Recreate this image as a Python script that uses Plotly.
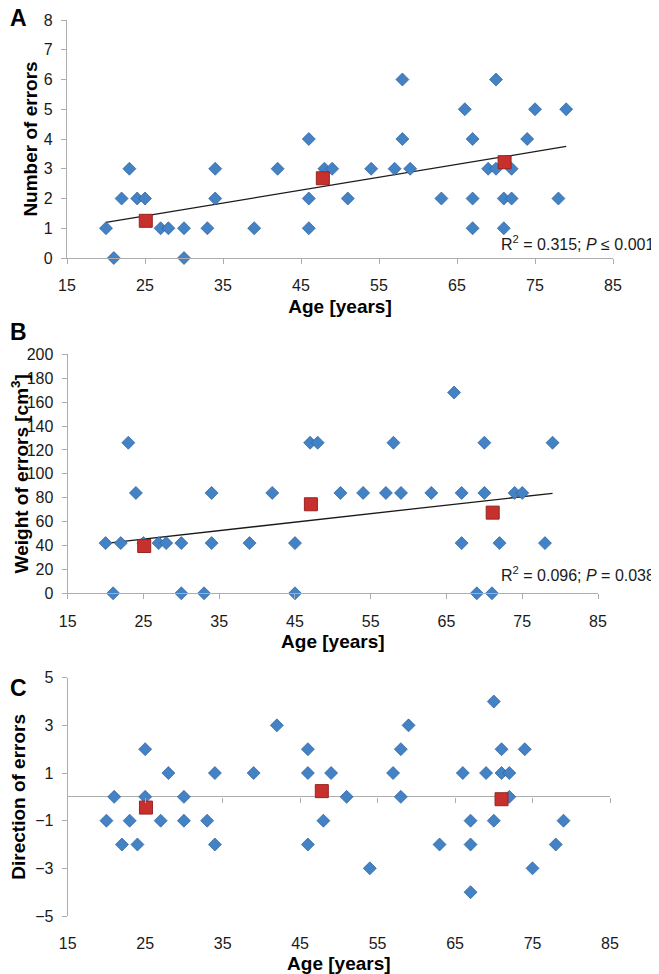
import plotly.graph_objects as go

# Panel A: number of errors vs age
age_a = [20, 21, 22, 23, 24, 25, 27, 28, 30, 30, 33, 34, 34, 39, 42, 46, 46, 46, 48, 49,
         51, 54, 57, 58, 58, 59, 63, 66, 67, 67, 67, 69, 70, 70, 71, 71, 72, 72, 74, 75, 78, 79]
err_a = [1, 0, 2, 3, 2, 2, 1, 1, 1, 0, 1, 2, 3, 1, 3, 4, 2, 1, 3, 3,
         2, 3, 3, 6, 4, 3, 2, 5, 4, 2, 1, 3, 6, 3, 2, 1, 2, 3, 4, 5, 2, 5]
mean_age_a = [25.1, 47.8, 71.1]
mean_err_a = [1.25, 2.68, 3.22]
trend_x_a = [20, 79]
trend_y_a = [1.2, 3.75]

# Panel B: weight of errors vs age
age_b = [20, 21, 22, 23, 24, 25, 27, 28, 30, 30, 33, 34, 34, 39, 42, 45, 45, 47, 48,
         51, 54, 57, 58, 59, 63, 66, 67, 67, 69, 70, 70, 71, 72, 74, 75, 78, 79]
wt_b = [42, 0, 42, 126, 84, 42, 42, 42, 42, 0, 0, 84, 42, 42, 84, 42, 0, 126, 126,
        84, 84, 84, 126, 84, 84, 168, 84, 42, 0, 126, 84, 0, 42, 84, 84, 42, 126]
mean_age_b = [25.1, 47.1, 71.1]
mean_wt_b = [39.6, 74.5, 67.5]
trend_x_b = [20, 79]
trend_y_b = [41.8, 83.7]

# Panel C: direction of errors vs age
age_c = [20, 21, 22, 23, 24, 25, 25, 27, 28, 30, 30, 33, 34, 34, 39, 42, 46, 46, 46, 48, 49,
         51, 54, 57, 58, 58, 59, 63, 66, 67, 67, 67, 69, 70, 70, 71, 71, 72, 72, 74, 75, 78, 79]
dir_c = [-1, 0, -2, -1, -2, 2, 0, -1, 1, 0, -1, -1, 1, -2, 1, 3, 2, 1, -2, -1, 1,
         0, -3, 1, 2, 0, 3, -2, 1, -1, -2, -4, 1, 4, -1, 2, 1, 1, 0, 2, -3, -2, -1]
mean_age_c = [25.1, 47.8, 71.0]
mean_dir_c = [-0.45, 0.24, -0.1]

x_ticks = [15, 25, 35, 45, 55, 65, 75, 85]

# the page body keeps its default 8px margin, so draw a slightly smaller figure
OFF = 8
W, H = 659 - OFF, 974 - OFF
BLUE = '#4382C4'
RED = '#C8302D'
GREY = '#ADADAD'
FONT = 'Arial, Liberation Sans, sans-serif'


def px_x(p):
    return (p - OFF) / W


def px_y(p):
    return 1 - (p - OFF) / H


fig = go.Figure()


def diamonds(x, y, ax):
    fig.add_trace(go.Scatter(
        x=x, y=y, mode='markers', xaxis=ax[0], yaxis=ax[1], cliponaxis=False,
        marker=dict(symbol='diamond', size=10, color=BLUE,
                    line=dict(color='#2D6099', width=0.7)),
        showlegend=False, hoverinfo='x+y'))


def squares(x, y, ax):
    fig.add_trace(go.Scatter(
        x=x, y=y, mode='markers', xaxis=ax[0], yaxis=ax[1], cliponaxis=False,
        marker=dict(symbol='square', size=13, color=RED,
                    line=dict(color='#962320', width=1)),
        showlegend=False, hoverinfo='x+y'))


def trend(x, y, ax):
    fig.add_trace(go.Scatter(
        x=x, y=y, mode='lines', xaxis=ax[0], yaxis=ax[1],
        line=dict(color='#1a1a1a', width=1.3), showlegend=False, hoverinfo='skip'))


trend(trend_x_a, trend_y_a, ('x', 'y'))
diamonds(age_a, err_a, ('x', 'y'))
squares(mean_age_a, mean_err_a, ('x', 'y'))

trend(trend_x_b, trend_y_b, ('x2', 'y2'))
diamonds(age_b, wt_b, ('x2', 'y2'))
squares(mean_age_b, mean_wt_b, ('x2', 'y2'))

diamonds(age_c, dir_c, ('x3', 'y3'))
squares(mean_age_c, mean_dir_c, ('x3', 'y3'))

tickfont = dict(family=FONT, size=16, color='#1a1a1a')
titlefont = dict(family=FONT, size=19, color='#000000')


def xaxis(dom, anchor, line=True):
    return dict(domain=dom, anchor=anchor, range=[15, 85], tickvals=x_ticks,
                showgrid=False, zeroline=False, showline=line, linecolor=GREY,
                linewidth=1.2, ticks='outside', ticklen=5, ticklabelstandoff=8,
                tickcolor=GREY if line else 'rgba(0,0,0,0)', tickfont=tickfont,
                automargin=False,
                title=dict(text='<b>Age [years]</b>', font=titlefont, standoff=6))


def yaxis(dom, anchor, rng, dtick, title, standoff, **kw):
    d = dict(domain=dom, anchor=anchor, range=rng, dtick=dtick, tick0=rng[0],
             showgrid=False, zeroline=False, showline=True, linecolor=GREY,
             linewidth=1.2, ticks='outside', ticklen=5, ticklabelstandoff=5,
             tickcolor=GREY, tickfont=tickfont, automargin=False,
             title=dict(text='<b>' + title + '</b>', font=titlefont, standoff=standoff))
    d.update(kw)
    return d


yc_dom = [px_y(916), px_y(677.7)]

fig.update_layout(
    width=W, height=H,
    margin=dict(l=0, r=0, t=0, b=0),
    paper_bgcolor='white', plot_bgcolor='white',
    font=dict(family=FONT),
    xaxis=xaxis([px_x(67), px_x(613)], 'y'),
    yaxis=yaxis([px_y(258), px_y(20)], 'x', [0, 8], 1, 'Number of errors', 1),
    xaxis2=xaxis([px_x(67.7), px_x(598)], 'y2'),
    yaxis2=yaxis([px_y(593.3), px_y(354.3)], 'x2', [0, 200], 20,
                 'Weight of errors [cm<sup>3</sup>]', 12),
    xaxis3=xaxis([px_x(67.7), px_x(610)], 'y3', line=False),
    yaxis3=yaxis(yc_dom, 'x3', [-5, 5], 2, 'Direction of errors', 9,
                 zeroline=True, zerolinecolor=GREY, zerolinewidth=1.2),
    # tick marks sitting on the zero line of panel C
    xaxis4=dict(domain=[px_x(67.7), px_x(610)], overlaying='x3', anchor='free',
                position=(yc_dom[0] + yc_dom[1]) / 2, range=[15, 85],
                tickvals=x_ticks, showticklabels=False, showgrid=False,
                zeroline=False, showline=False, ticks='outside', ticklen=5,
                tickcolor=GREY, automargin=False),
)

# dummy trace so xaxis4 is drawn
fig.add_trace(go.Scatter(x=[None], y=[None], xaxis='x4', yaxis='y3',
                         showlegend=False, hoverinfo='skip'))

panel_letters = [('A', 18), ('B', 332), ('C', 688)]
for letter, ypix in panel_letters:
    fig.add_annotation(text='<b>' + letter + '</b>', x=0, y=px_y(ypix),
                       xref='paper', yref='paper', xanchor='left', yanchor='middle',
                       showarrow=False, font=dict(family=FONT, size=23, color='#000000'))

stats = [('R<sup>2</sup> = 0.315; <i>P</i> ≤ 0.001', 243),
         ('R<sup>2</sup> = 0.096; <i>P</i> = 0.038', 574)]
for txt, ypix in stats:
    fig.add_annotation(text=txt, x=px_x(499), y=px_y(ypix), xref='paper', yref='paper',
                       xanchor='left', yanchor='middle', showarrow=False,
                       font=dict(family=FONT, size=16, color='#1a1a1a'))

fig.write_html('out.html')
